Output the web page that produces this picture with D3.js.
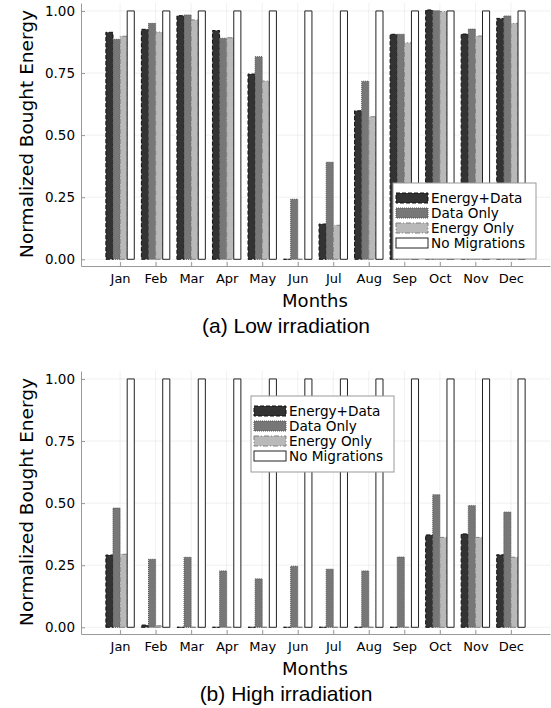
<!DOCTYPE html>
<html>
<head>
<meta charset="utf-8">
<script src="https://cdn.jsdelivr.net/npm/d3@7"></script>
<style>
  body { margin: 0; background: #fff; }
  svg text { font-family: "DejaVu Sans", sans-serif; fill: #000; }
</style>
</head>
<body>
<div id="chart"></div>
<script>
const months = ["Jan", "Feb", "Mar", "Apr", "May", "Jun", "Jul", "Aug", "Sep", "Oct", "Nov", "Dec"];
const seriesNames = ["Energy+Data", "Data Only", "Energy Only", "No Migrations"];
const yTicks = [0, 0.25, 0.5, 0.75, 1];

// (a) low irradiation
const lowEnergyData = [0.914, 0.926, 0.981, 0.921, 0.746, 0, 0.142, 0.598, 0.906, 1.004, 0.907, 0.970];
const lowDataOnly   = [0.886, 0.950, 0.984, 0.890, 0.816, 0.242, 0.391, 0.717, 0.906, 1.001, 0.927, 0.980];
const lowEnergyOnly = [0.898, 0.915, 0.964, 0.892, 0.718, 0, 0.137, 0.574, 0.872, 0.998, 0.899, 0.950];
const lowNoMig      = [1, 1, 1, 1, 1, 1, 1, 1, 1, 1, 1, 1];

// (b) high irradiation
const highEnergyData = [0.291, 0.009, 0, 0, 0, 0, 0, 0, 0, 0.372, 0.376, 0.292];
const highDataOnly   = [0.480, 0.274, 0.282, 0.227, 0.195, 0.246, 0.234, 0.227, 0.283, 0.534, 0.490, 0.464];
const highEnergyOnly = [0.294, 0.006, 0, 0, 0, 0, 0, 0, 0, 0.362, 0.362, 0.282];
const highNoMig      = [1, 1, 1, 1, 1, 1, 1, 1, 1, 1, 1, 1];

const svg = d3.select("#chart").append("svg")
  .attr("width", 551)
  .attr("height", 708);

// bar look per series: fill, outline, outline dash
const barStyles = [
  { fill: "#333333", stroke: "#111111", dash: "4,2" },
  { fill: "#777777", stroke: "#555555", dash: "1,1" },
  { fill: "#b9b9b9", stroke: "#808080", dash: "5,2,1,2" },
  { fill: "#ffffff", stroke: "#222222", dash: null }
];

function drawPanel(top, series, legendX, legendY, caption) {
  const g = svg.append("g").attr("transform", `translate(0, ${top})`);

  const x = d3.scaleLinear().domain([-1.1, 12.1]).range([81, 550]);
  const y = d3.scaleLinear().domain([-0.027, 1.032]).range([266, 3]);

  // grid
  g.append("g").selectAll("line.hg")
    .data(yTicks).enter().append("line")
    .attr("x1", 81).attr("x2", 550)
    .attr("y1", d => y(d)).attr("y2", d => y(d))
    .attr("stroke", "#000").attr("stroke-opacity", 0.06);
  g.append("g").selectAll("line.vg")
    .data(months).enter().append("line")
    .attr("x1", (d, i) => x(i)).attr("x2", (d, i) => x(i))
    .attr("y1", 3).attr("y2", 266)
    .attr("stroke", "#000").attr("stroke-opacity", 0.06);

  // bars
  const groupW = 0.8;
  const barW = groupW / series.length;
  series.forEach((vals, k) => {
    const st = barStyles[k];
    g.append("g").selectAll("path")
      .data(vals).enter().append("path")
      .attr("d", (v, i) => {
        const x0 = x(i - groupW / 2 + k * barW);
        const x1 = x(i - groupW / 2 + (k + 1) * barW);
        return `M${x0},${y(0)}H${x1}V${y(v)}H${x0}Z`;
      })
      .attr("fill", st.fill)
      .attr("stroke", st.stroke)
      .attr("stroke-width", 1)
      .attr("stroke-dasharray", st.dash);
  });

  // axes
  const xAxis = d3.axisBottom(x)
    .tickValues(d3.range(months.length))
    .tickFormat(i => months[i])
    .tickSizeInner(-4).tickSizeOuter(0).tickPadding(8);
  const xg = g.append("g").attr("transform", "translate(0, 266)").call(xAxis);
  xg.select(".domain").attr("stroke", "#999");
  xg.selectAll(".tick line").attr("stroke", "#999");
  xg.selectAll(".tick text").style("font-size", "13px").attr("dy", "0.72em");

  const yAxis = d3.axisLeft(y)
    .tickValues(yTicks)
    .tickFormat(d3.format(".2f"))
    .tickSizeInner(-4).tickSizeOuter(0).tickPadding(6);
  const yg = g.append("g").attr("transform", "translate(81, 0)").call(yAxis);
  yg.select(".domain").attr("stroke", "#999");
  yg.selectAll(".tick line").attr("stroke", "#999");
  yg.selectAll(".tick text").style("font-size", "13.5px");

  // axis titles
  g.append("text")
    .attr("transform", "translate(33, 134) rotate(-90)")
    .attr("text-anchor", "middle")
    .style("font-size", "18.5px")
    .text("Normalized Bought Energy");
  g.append("text")
    .attr("x", 315).attr("y", 307)
    .attr("text-anchor", "middle")
    .style("font-size", "18px")
    .text("Months");

  // caption
  g.append("text")
    .attr("x", 286).attr("y", 333)
    .attr("text-anchor", "middle")
    .style("font-family", "'Liberation Sans', Arial, sans-serif")
    .style("font-size", "21px")
    .text(caption);

  // legend
  const lg = g.append("g").attr("transform", `translate(${legendX}, ${legendY})`);
  lg.append("rect")
    .attr("width", 143).attr("height", 76)
    .attr("fill", "#fff").attr("stroke", "#999").attr("stroke-width", 1);
  seriesNames.forEach((name, k) => {
    const st = barStyles[k];
    const cy = 15 + k * 15;
    lg.append("rect")
      .attr("x", 3).attr("y", cy - 5)
      .attr("width", 32).attr("height", 10)
      .attr("fill", st.fill).attr("stroke", st.stroke)
      .attr("stroke-dasharray", st.dash);
    lg.append("text")
      .attr("x", 38).attr("y", cy + 5)
      .style("font-size", "13.6px")
      .text(name);
  });
}

drawPanel(0, [lowEnergyData, lowDataOnly, lowEnergyOnly, lowNoMig], 393, 183, "(a) Low irradiation");
drawPanel(368, [highEnergyData, highDataOnly, highEnergyOnly, highNoMig], 251, 28, "(b) High irradiation");
</script>
</body>
</html>
